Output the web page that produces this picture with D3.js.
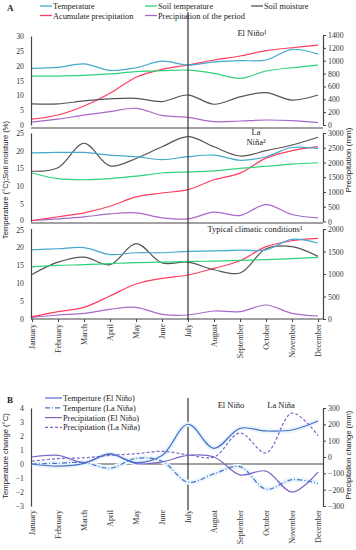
<!DOCTYPE html>
<html>
<head>
<meta charset="utf-8">
<script src="https://cdn.jsdelivr.net/npm/d3@7.9.0/dist/d3.min.js"></script>
<style>
  body { margin: 0; background: #fff; }
  svg { display: block; font-family: "Liberation Serif", "Times New Roman", serif; }
  .ytitle { font-family: "Liberation Sans", Arial, sans-serif; }
</style>
</head>
<body>
<svg id="chart" width="356" height="550"></svg>
<script>
const months = ['January', 'February', 'March', 'April', 'May', 'June',
  'July', 'August', 'September', 'October', 'November', 'December'];

// A - El Niño
const ninoTemp = [19.1, 19.4, 20.6, 18.4, 19.3, 21.5, 20.2, 21.3, 21.7, 21.9, 25.5, 23.9];
const ninoSoilTemp = [16.5, 16.5, 16.7, 17.2, 18.0, 18.3, 18.5, 17.4, 15.7, 18.2, 19.3, 20.2];
const ninoMoisture = [7.1, 7.1, 8.1, 8.8, 9.0, 7.9, 10.1, 7.0, 9.5, 10.9, 8.4, 10.1];
const ninoAccum = [90, 155, 295, 493, 742, 866, 933, 1011, 1073, 1156, 1202, 1244];
const ninoPeriod = [45, 90, 155, 207, 260, 150, 120, 52, 62, 78, 67, 36];

// A - La Niña
const ninaTemp = [19.4, 19.5, 19.5, 18.75, 18.3, 17.5, 18.3, 18.75, 17.3, 18.3, 20.9, 20.6];
const ninaSoilTemp = [13.7, 12.1, 11.8, 12.1, 12.8, 13.7, 14.0, 14.3, 15.0, 15.6, 16.2, 16.6];
const ninaMoisture = [14.2, 15.2, 22.1, 15.7, 17.8, 21.1, 24.0, 21.1, 18.5, 20.0, 21.6, 23.8];
const ninaAccum = [34, 160, 293, 517, 833, 967, 1078, 1415, 1640, 2147, 2403, 2538];
const ninaPeriod = [34, 90, 158, 258, 293, 124, 90, 315, 202, 573, 236, 124];

// A - typical conditions
const typTemp = [19.1, 19.4, 19.7, 17.8, 18.3, 18.3, 18.7, 18.8, 19.0, 19.1, 22.0, 21.0];
const typSoilTemp = [14.4, 14.8, 15.0, 15.3, 15.6, 15.7, 15.9, 16.0, 16.2, 16.4, 16.7, 17.0];
const typMoisture = [12.3, 15.7, 17.1, 15.0, 20.8, 15.5, 15.7, 13.6, 12.7, 19.4, 20.0, 17.3];
const typAccum = [51, 162, 260, 511, 778, 904, 978, 1126, 1296, 1607, 1740, 1793];
const typPeriod = [37, 89, 126, 215, 260, 104, 89, 178, 163, 311, 126, 67];

// B - changes
const tempChangeNino = [0.0, -0.15, 0.05, 0.7, 0.1, 0.6, 2.84, 1.12, 2.55, 2.36, 2.43, 3.07];
const tempChangeNina = [0.0, 0.05, 0.1, -0.3, 0.4, 0.2, -1.3, -0.7, -0.19, -1.8, -1.12, -1.38];
const precChangeNino = [0, 10, -34, 20, -40, -30, 10, 0, -109, -86, -215, -93];
const precChangeNina = [-25, -10, -5, 10, 20, 35, 14, 0, 147, 25, 269, 131];

const colTemp = '#45a9cb', colSoil = '#2fd27a', colMoist = '#555555',
      colAccum = '#ff3d5e', colPeriod = '#a868c8';
const colBTemp = '#4a6fca', colBPrec = '#7e66c6';

const svg = d3.select('#chart');
const x = d3.scalePoint().domain(months).range([32, 318]);
const axisCol = '#444';
const fmt = d3.format('d');

const curve = d3.curveCatmullRom.alpha(0.5);

function styleAxis(g) {
  g.selectAll('path.domain').attr('stroke', axisCol).attr('stroke-width', 1.2);
  g.selectAll('.tick line').attr('stroke', axisCol);
  g.selectAll('.tick text').attr('font-size', 7.8).attr('fill', '#333')
    .attr('font-family', '"Liberation Serif", serif');
}

function drawLine(vals, y, color, dash, width) {
  const line = d3.line().x((d, i) => x(months[i])).y(d => y(d)).curve(curve);
  svg.append('path').datum(vals)
    .attr('d', line).attr('fill', 'none')
    .attr('stroke', color).attr('stroke-width', width || 1.2)
    .attr('stroke-dasharray', dash || null);
}

// ---- Panel A ----
const panels = [
  { top: 36, bottom: 125, lMax: 30, rMax: 1400, rTop: 35, rStep: 200,
    series: [ninoPeriod, ninoAccum, ninoMoisture, ninoSoilTemp, ninoTemp] },
  { top: 133, bottom: 221.5, lMax: 25, rMax: 3000, rTop: 133, rStep: 500,
    series: [ninaPeriod, ninaAccum, ninaMoisture, ninaSoilTemp, ninaTemp] },
  { top: 228.5, bottom: 319, lMax: 25, rMax: 2000, rTop: 229, rStep: 500,
    series: [typPeriod, typAccum, typMoisture, typSoilTemp, typTemp] }
];

panels.forEach((p, pi) => {
  const yL = d3.scaleLinear().domain([0, p.lMax]).range([p.bottom, p.top]);
  const yR = d3.scaleLinear().domain([0, p.rMax]).range([p.bottom, p.rTop]);

  svg.append('g').attr('transform', 'translate(31,0)')
    .call(d3.axisLeft(yL).tickValues(d3.range(0, p.lMax + 1, 5)).tickFormat(fmt)
      .tickSize(0).tickPadding(7))
    .call(styleAxis)
    // keep labels at touching panel edges apart
    .call(g => g.selectAll('.tick text')
      .attr('dy', d => (pi === 1 && d === 0) ? '0.1em' : (pi === 2 && d === p.lMax) ? '0.5em' : '0.32em'));
  svg.append('g').attr('transform', 'translate(323,0)')
    .call(d3.axisRight(yR).tickValues(d3.range(0, p.rMax + 1, p.rStep)).tickFormat(fmt)
      .tickSize(3).tickSizeOuter(0).tickPadding(2))
    .call(styleAxis);

  const [period, accum, moist, soil, temp] = p.series;
  drawLine(period, yR, colPeriod);
  drawLine(accum, yR, colAccum);
  drawLine(moist, yL, colMoist);
  drawLine(soil, yL, colSoil);
  drawLine(temp, yL, colTemp);
});

// panel dividers
[128, 223].forEach(yy => {
  svg.append('line').attr('x1', 31).attr('x2', 323).attr('y1', yy).attr('y2', yy)
    .attr('stroke', axisCol).attr('stroke-width', 1.2);
});

// x axis of A
svg.append('g').attr('transform', 'translate(0,319)')
  .call(d3.axisBottom(x).tickSize(3).tickSizeOuter(0).tickPadding(3))
  .call(g => g.select('path.domain').attr('d', 'M31,0H323'))
  .call(styleAxis)
  .call(g => g.selectAll('.tick text').attr('transform', 'rotate(-90)')
    .attr('text-anchor', 'end').attr('dy', '0.32em').attr('x', -5).attr('y', 0).attr('font-size', 8));

// July marker A
svg.append('line').attr('x1', x('July')).attr('x2', x('July')).attr('y1', 12).attr('y2', 320)
  .attr('stroke', '#333').attr('stroke-width', 1.2);

// panel labels A
const lbl = (t, xx, yy, opts = {}) => svg.append('text').attr('x', xx).attr('y', yy)
  .attr('font-size', opts.size || 8.5).attr('fill', '#222')
  .attr('text-anchor', opts.anchor || 'middle').attr('font-weight', opts.weight || null).text(t);
lbl('El Niño¹', 252, 36);
lbl('La', 256, 135);
lbl('Niña²', 256, 145);
lbl('Typical climatic conditions¹', 255, 232);
lbl('A', 7, 11, { anchor: 'start', weight: 'bold', size: 9 });

// legend A
const legendA = [
  { name: 'Temperature', color: colTemp, x: 40, y: 6 },
  { name: 'Soil temperature', color: colSoil, x: 145, y: 6 },
  { name: 'Soil moisture', color: colMoist, x: 251, y: 6 },
  { name: 'Acumulate precipitation', color: colAccum, x: 40, y: 15.5 },
  { name: 'Precipitation of the period', color: colPeriod, x: 145, y: 15.5 }
];
legendA.forEach(d => {
  svg.append('line').attr('x1', d.x).attr('x2', d.x + 12).attr('y1', d.y).attr('y2', d.y)
    .attr('stroke', d.color).attr('stroke-width', 1.3);
  svg.append('text').attr('x', d.x + 13).attr('y', d.y + 3).attr('font-size', 8.3)
    .attr('fill', '#222').text(d.name);
});

// y titles A
svg.append('text').attr('class', 'ytitle').attr('transform', 'translate(8,180) rotate(-90)')
  .attr('text-anchor', 'middle').attr('font-size', 7.6).attr('fill', '#222')
  .text('Temperature (°C);Soil moisture (%)');
svg.append('text').attr('class', 'ytitle').attr('transform', 'translate(351,160) rotate(-90)')
  .attr('text-anchor', 'middle').attr('font-size', 8).attr('fill', '#222')
  .text('Precipitation (mm)');

// ---- Panel B ----
const yBL = d3.scaleLinear().domain([-3, 4]).range([506, 408]);
const yBR = d3.scaleLinear().domain([-300, 300]).range([506, 408]);

svg.append('g').attr('transform', 'translate(31,0)')
  .call(d3.axisLeft(yBL).tickValues(d3.range(-3, 5)).tickFormat(fmt).tickSize(0).tickPadding(7))
  .call(styleAxis);
svg.append('g').attr('transform', 'translate(323,0)')
  .call(d3.axisRight(yBR).tickValues(d3.range(-300, 301, 100)).tickFormat(fmt)
    .tickSize(3).tickSizeOuter(0).tickPadding(2))
  .call(styleAxis);

// zero line with month labels
svg.append('line').attr('x1', 31).attr('x2', 323).attr('y1', yBL(0)).attr('y2', yBL(0))
  .attr('stroke', axisCol).attr('stroke-width', 1.2);
svg.append('g').attr('transform', 'translate(0,506)')
  .call(d3.axisBottom(x).tickSize(0).tickPadding(3))
  .call(g => g.select('path.domain').remove())
  .call(styleAxis)
  .call(g => g.selectAll('.tick text').attr('transform', 'rotate(-90)')
    .attr('text-anchor', 'end').attr('dy', '0.32em').attr('x', -4).attr('y', 0).attr('font-size', 8));

svg.append('line').attr('x1', x('July')).attr('x2', x('July')).attr('y1', 398).attr('y2', 510)
  .attr('stroke', '#333').attr('stroke-width', 1.2);

// faint glow under temperature lines
[tempChangeNino, tempChangeNina].forEach(v => drawLine(v, yBL, '#e8f6fb', null, 5));

drawLine(precChangeNino, yBR, colBPrec);
drawLine(precChangeNina, yBR, colBPrec, '3,2');
drawLine(tempChangeNina, yBL, colBTemp, '5,2,1,2');
drawLine(tempChangeNino, yBL, colBTemp);

lbl('B', 7, 403, { anchor: 'start', weight: 'bold', size: 9 });
lbl('El Niño', 231, 408);
lbl('La Niña', 281, 408);

const legendB = [
  { name: 'Temperture (El Niño)', color: colBTemp, dash: null },
  { name: 'Temperture (La Niña)', color: colBTemp, dash: '5,2,1,2' },
  { name: 'Precipitation (El Niño)', color: colBPrec, dash: null },
  { name: 'Precipitation (La Niña)', color: colBPrec, dash: '3,2' }
];
legendB.forEach((d, i) => {
  const yy = 398 + i * 9.8;
  svg.append('line').attr('x1', 45).attr('x2', 62).attr('y1', yy).attr('y2', yy)
    .attr('stroke', d.color).attr('stroke-width', 1.2).attr('stroke-dasharray', d.dash);
  svg.append('text').attr('x', 63).attr('y', yy + 3).attr('font-size', 8.3)
    .attr('fill', '#222').text(d.name);
});

svg.append('text').attr('class', 'ytitle').attr('transform', 'translate(8,456) rotate(-90)')
  .attr('text-anchor', 'middle').attr('font-size', 7.6).attr('fill', '#222')
  .text('Temperature change (°C)');
svg.append('text').attr('class', 'ytitle').attr('transform', 'translate(351,455) rotate(-90)')
  .attr('text-anchor', 'middle').attr('font-size', 7.6).attr('fill', '#222')
  .text('Precipitation change (mm)');
</script>
</body>
</html>
